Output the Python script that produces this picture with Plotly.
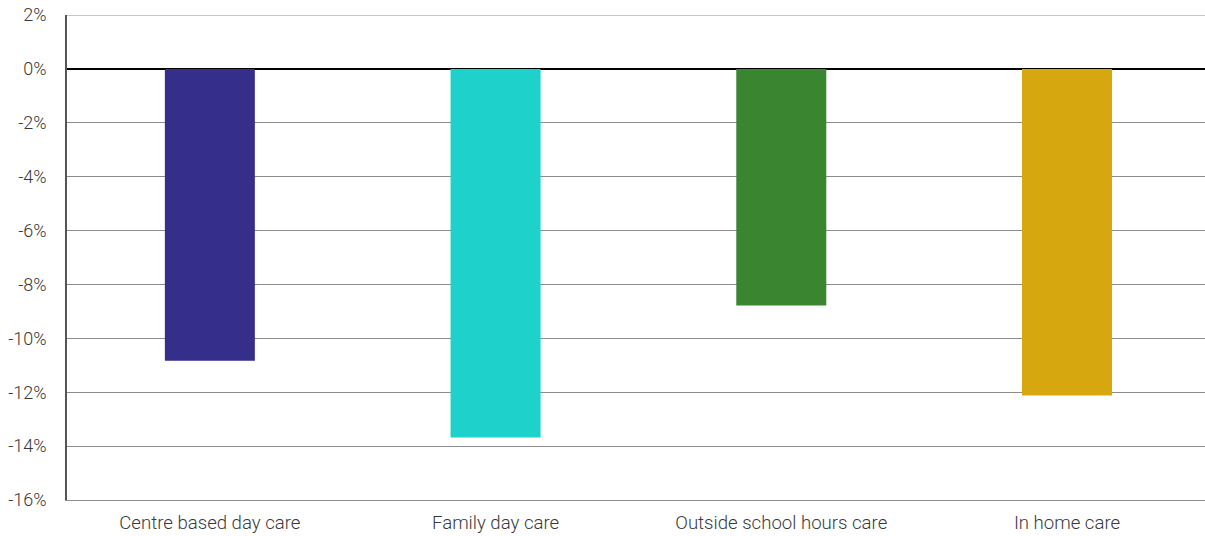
import plotly.graph_objects as go

categories = ["Centre based day care", "Family day care", "Outside school hours care", "In home care"]
values = [-10.83, -13.68, -8.78, -12.12]
colors = ["#352e8a", "#1ed1ca", "#3a8530", "#d6a70e"]
tick_vals = [2, 0, -2, -4, -6, -8, -10, -12, -14, -16]
tick_text = [f"{v}%" for v in tick_vals]

fig = go.Figure(go.Bar(x=categories, y=values, marker=dict(color=colors, line=dict(width=0)), width=0.315))

fig.update_layout(
    width=1205, height=536,
    margin=dict(l=67, r=0, t=15, b=36),
    paper_bgcolor="white", plot_bgcolor="white",
    font=dict(family="Roboto", size=18, color="#3a3a3a", weight=300),
    showlegend=False,
)
fig.update_yaxes(
    range=[-16, 2], tickvals=tick_vals, ticktext=tick_text,
    showgrid=True, gridcolor="#8c8c8c", gridwidth=1,
    zeroline=True, zerolinecolor="#000000", zerolinewidth=2,
    showline=True, linecolor="#555555", linewidth=1.5,
    ticks="", ticklen=0, ticklabelstandoff=15,
)
fig.update_xaxes(
    range=[-0.5, 3.483],
    showline=True, linecolor="#8c8c8c", linewidth=1,
    showgrid=False, ticks="", ticklabelstandoff=6,
    tickfont=dict(family="Roboto", size=18.6, color="#3a3a3a", weight=300),
)
fig.add_shape(type="line", xref="paper", yref="y", x0=0, x1=1, y0=2, y1=2,
              line=dict(color="#8c8c8c", width=1))

fig.write_html("out.html")
